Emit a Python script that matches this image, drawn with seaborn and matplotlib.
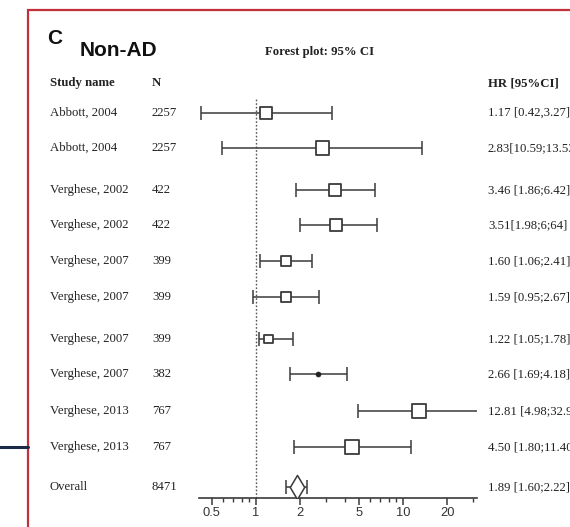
import numpy as np
import pandas as pd
import matplotlib
matplotlib.use("Agg")
import matplotlib.pyplot as plt
import matplotlib.transforms as mtransforms
from matplotlib.patches import Rectangle
from matplotlib.lines import Line2D
from matplotlib.ticker import FixedLocator, NullFormatter
import seaborn as sns

# ---- data ----
studies = ["Abbott, 2004", "Abbott, 2004", "Verghese, 2002", "Verghese, 2002",
           "Verghese, 2007", "Verghese, 2007", "Verghese, 2007", "Verghese, 2007",
           "Verghese, 2013", "Verghese, 2013", "Overall"]
n_subjects = ["2257", "2257", "422", "422", "399", "399", "399", "382", "767", "767", "8471"]
hr = [1.17, 2.83, 3.46, 3.51, 1.60, 1.59, 1.22, 2.66, 12.81, 4.50, 1.89]
ci_low = [0.42, 0.59, 1.86, 1.98, 1.06, 0.95, 1.05, 1.69, 4.98, 1.80, 1.60]
ci_high = [3.27, 13.53, 6.42, 6.64, 2.41, 2.67, 1.78, 4.18, 32.96, 11.40, 2.22]
hr_labels = ["1.17 [0.42,3.27]", "2.83[10.59;13.53]", "3.46 [1.86;6.42]", "3.51[1.98;6;64]",
             "1.60 [1.06;2.41]", "1.59 [0.95;2.67]", "1.22 [1.05;1.78]", "2.66 [1.69;4.18]",
             "12.81 [4.98;32.96]", "4.50 [1.80;11.40]", "1.89 [1.60;2.22]"]
marker_kind = ["square"] * 7 + ["dot"] + ["square"] * 2 + ["overall"]
tick_values = [0.5, 1, 2, 5, 10, 20]
tick_labels = ["0.5", "1", "2", "5", "10", "20"]

# ---- layout (pixel rows of the figure) ----
W, H = 570, 527
row_pos = [113, 148, 190, 225, 261, 297, 339, 374, 411, 447, 487]
marker_area = [84, 96, 76, 76, 50, 50, 40, 14, 104, 104, 150]
ax_left_px, ax_right_px, ax_top_px, ax_bottom_px = 199, 477, 98, 498

df = pd.DataFrame({"study": studies, "n": n_subjects, "hr": hr, "lo": ci_low,
                   "hi": ci_high, "label": hr_labels, "kind": marker_kind,
                   "y": row_pos, "area": marker_area})

sns.set_theme(style="white")
plt.rcParams["font.family"] = ["Liberation Serif", "DejaVu Sans"]

fig = plt.figure(figsize=(W / 100, H / 100), dpi=100)
fig.patch.set_facecolor("white")


def fx(px):
    return px / W


def fy(py):
    return 1 - py / H


ax = fig.add_axes([fx(ax_left_px), fy(ax_bottom_px),
                   fx(ax_right_px) - fx(ax_left_px), fy(ax_top_px) - fy(ax_bottom_px)])
ax.set_xscale("log")
ax.set_xlim(0.409, 31.9)
ax.set_ylim(ax_bottom_px, ax_top_px)
ax.patch.set_alpha(0)

ink = "#3a3a3a"

# reference line at HR = 1
ax.axvline(1, color="#555555", lw=1.0, ls=(0, (1.2, 1.4)), zorder=1)

# confidence intervals
ax.errorbar(df["hr"], df["y"], xerr=[df["hr"] - df["lo"], df["hi"] - df["hr"]],
            fmt="none", ecolor=ink, elinewidth=1.1, capsize=5.2, capthick=1.1, zorder=2)

sq = df[df["kind"] == "square"]
sns.scatterplot(data=sq, x="hr", y="y", size="area", sizes=(sq["area"].min(), sq["area"].max()),
                size_norm=(sq["area"].min(), sq["area"].max()),
                marker="s", facecolor="white", edgecolor=ink, linewidth=1.3,
                legend=False, ax=ax, zorder=3)
dot = df[df["kind"] == "dot"]
sns.scatterplot(data=dot, x="hr", y="y", s=float(dot["area"].iloc[0]), marker="o",
                color="#222222", edgecolor="#222222", legend=False, ax=ax, zorder=3)
ov = df[df["kind"] == "overall"]
sns.scatterplot(data=ov, x="hr", y="y", s=float(ov["area"].iloc[0]), marker="d",
                facecolor="white", edgecolor=ink, linewidth=1.1, legend=False, ax=ax, zorder=3)

# axis styling
for side in ["top", "right", "left"]:
    ax.spines[side].set_visible(False)
ax.spines["bottom"].set_color(ink)
ax.spines["bottom"].set_linewidth(1.2)
ax.set_yticks([])
ax.xaxis.set_major_locator(FixedLocator(tick_values))
ax.xaxis.set_minor_locator(FixedLocator([0.6, 0.7, 0.8, 0.9, 3, 4, 6, 7, 8, 9, 30]))
ax.xaxis.set_minor_formatter(NullFormatter())
ax.set_xticklabels(tick_labels, fontfamily="Liberation Sans", fontsize=9.3, color="#333333")
ax.tick_params(axis="x", which="major", direction="out", length=5, width=1.1,
               color=ink, pad=1.5, bottom=True)
ax.tick_params(axis="x", which="minor", direction="out", length=3, width=1.0,
               color=ink, bottom=True)
ax.set_xlabel("")
ax.set_ylabel("")

# table columns
row_tf = mtransforms.blended_transform_factory(fig.transFigure, ax.transData)
txt_kw = dict(fontsize=9.2, color="#222222", va="center", transform=row_tf)
for _, r in df.iterrows():
    fig.text(fx(50), r["y"], r["study"], ha="left", **txt_kw)
    fig.text(fx(152), r["y"], r["n"], ha="left", **txt_kw)
    fig.text(fx(488), r["y"], r["label"], ha="left", **txt_kw)

hdr_kw = dict(fontsize=9.2, color="#222222", va="center", fontweight="bold")
fig.text(fx(50), fy(83), "Study name", ha="left", **hdr_kw)
fig.text(fx(152), fy(83), "N", ha="left", **hdr_kw)
fig.text(fx(488), fy(83), "HR [95%CI]", ha="left", **hdr_kw)
fig.text(fx(265), fy(52), "Forest plot: 95% CI", ha="left", **hdr_kw)

fig.text(fx(47), fy(38), "C", ha="left", va="center", fontsize=15,
         fontweight="bold", fontfamily="Liberation Sans", color="#111111")
fig.text(fx(80), fy(51), "Non-AD", ha="left", va="center", fontsize=15,
         fontweight="bold", fontfamily="Liberation Sans", color="#111111")

# panel frame and connector
fig.add_artist(Rectangle((fx(28), fy(560)), fx(600) - fx(28), fy(10) - fy(560),
                         transform=fig.transFigure, fill=False, edgecolor="#c0313c",
                         linewidth=1.6))
fig.add_artist(Line2D([0, fx(28)], [fy(447), fy(447)], transform=fig.transFigure,
                      color="#1b2a48", linewidth=2.2))

fig.savefig("out.png", dpi=100, facecolor="white")
